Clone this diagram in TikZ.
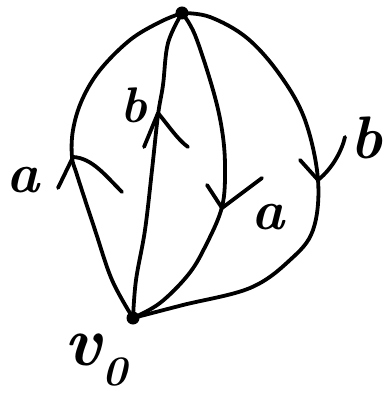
\documentclass[tikz,border=0pt]{standalone}
\usepackage{fontspec}
\begin{document}
\begin{tikzpicture}[x=1pt,y=-1pt,
  edge/.style={line width=3.8pt, line cap=round, line join=round},
  vert/.style={circle, fill, inner sep=0pt, minimum size=13pt},
  lab/.style={inner sep=0pt, font=\fontsize{56}{58}\selectfont\bfseries\itshape}]
\useasboundingbox (0,0) rectangle (388,395);
\node[vert] (T) at (182,13) {};
\node[vert] (V) at (133,318) {};
% edges
\draw[edge] plot[smooth, tension=0.6] coordinates {(T) (160,22) (130,40) (100,70) (82,100) (73,130) (72,157) (77,175) (95,230) (112,280) (V)};
\draw[edge] plot[smooth, tension=0.6] coordinates {(T) (168,43) (163,85) (158,115) (152,170) (145,230) (136,280) (V)};
\draw[edge] plot[smooth, tension=0.6] coordinates {(T) (195,35) (213,90) (222,130) (225,167) (222,207) (205,247) (188,275) (160,303) (V)};
\draw[edge] plot[smooth, tension=0.6] coordinates {(T) (210,17) (247,38) (280,75) (305,120) (318,180) (313,230) (290,260) (250,288) (183,305) (V)};
% chevrons
\draw[edge] (58,188) -- (73,157) .. controls (92,158) and (105,175) .. (122,192);
\draw[edge] (144,147) -- (158,113) .. controls (168,125) and (178,140) .. (188,147);
\draw[edge] (207,185) -- (222,208) -- (262,178);
\draw[edge] (300,160) -- (318,180) .. controls (333,168) and (342,150) .. (345,137);
% labels
\node[lab] (la1) at (23,180) {a};
\node[lab, font=\fontsize{50}{52}\selectfont\bfseries\itshape] (lb1) at (134,105) {b};
\node[lab] (la2) at (268,217) {a};
\node[lab, font=\fontsize{60}{62}\selectfont\bfseries\itshape] (lb2) at (366,138) {b};
\node[lab, font=\fontsize{70}{72}\selectfont\bfseries\itshape] (lv) at (96,360) {v\raisebox{-0.28em}{\fontsize{42}{42}\selectfont 0}};
\end{tikzpicture}
\end{document}
